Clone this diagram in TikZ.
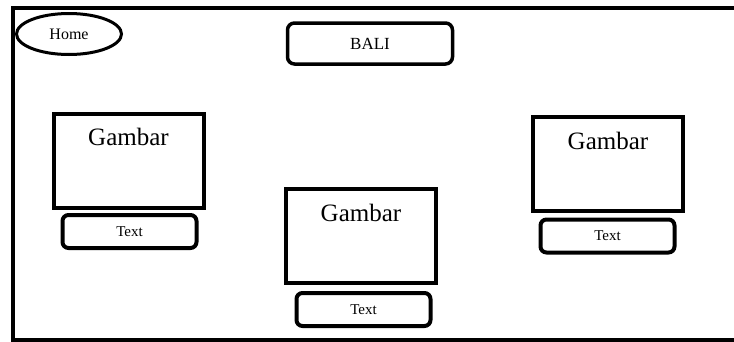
\documentclass[tikz,border=0pt]{standalone}
\usepackage{fontspec}
\setmainfont{Liberation Serif}
\usetikzlibrary{shapes.geometric}

\tikzset{
	gambarbox/.style={draw, line width=4pt, minimum width=150pt, minimum height=94pt, inner sep=0pt,
		label={[anchor=base, yshift=-34pt, font=\fontsize{25}{28}\selectfont]north:Gambar}},
	textbox/.style={draw, line width=4pt, rounded corners=6pt, minimum width=134pt, minimum height=33pt,
		font=\fontsize{15}{17}\selectfont}
}

\begin{document}
\begin{tikzpicture}[x=1pt,y=-1pt]
	\useasboundingbox (0,0) rectangle (734,341);
	% page frame, open on the right
		\draw[line width=4pt] (734,8) -- (13,8) -- (13,340) -- (734,340);
	% home button
		\node[draw, ellipse, line width=3pt, minimum width=105pt, minimum height=41pt, font=\fontsize{16}{18}\selectfont] (home) at (69,34) {Home};
	% title
		\node[draw, line width=3.5pt, rounded corners=7pt, minimum width=165pt, minimum height=41pt, font=\fontsize{17}{19}\selectfont] (title) at (370,43.5) {BALI};
	% left picture
		\node[gambarbox] (gbrLeft) at (128.5,160.5) {};
		\node[textbox] (txtLeft) at (129.5,231.5) {Text};
	% middle picture
		\node[gambarbox] (gbrMid) at (361,236) {};
		\node[textbox] (txtMid) at (363.5,309.5) {Text};
	% right picture
		\node[gambarbox] (gbrRight) at (608,164) {};
		\node[textbox] (txtRight) at (607.5,236) {Text};
\end{tikzpicture}
\end{document}
